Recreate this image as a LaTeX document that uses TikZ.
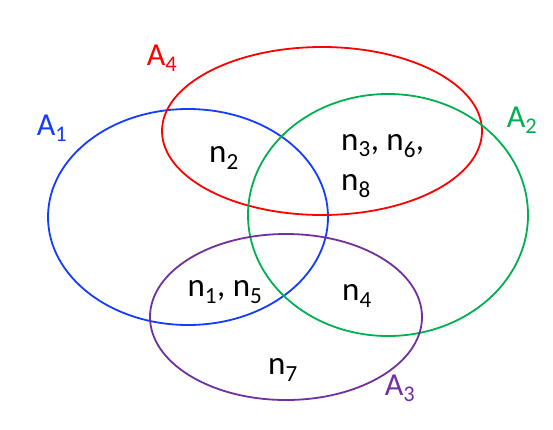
\documentclass[tikz,border=0pt]{standalone}
\usepackage{fontspec}
\setmainfont{Carlito}
\definecolor{cblue}{RGB}{20,60,255}
\definecolor{cred}{RGB}{255,0,0}
\definecolor{cgreen}{RGB}{0,176,80}
\definecolor{cpurple}{RGB}{112,48,160}
\begin{document}
\begin{tikzpicture}[x=1pt,y=-1pt,
  setline/.style={line width=1.8pt},
  elt/.style={font=\fontsize{33}{38}\selectfont, inner sep=0pt},
  lbl/.style={font=\fontsize{32}{36}\selectfont, inner sep=0pt}]
\useasboundingbox (0,0) rectangle (553,429);
\draw[setline, cblue] (188,217) ellipse [x radius=140, y radius=108];
\draw[setline, cred] (322,131) ellipse [x radius=160, y radius=84];
\draw[setline, cgreen] (388,215) ellipse [x radius=140, y radius=121];
\draw[setline, cpurple] (286,317) ellipse [x radius=136, y radius=83];
\node[lbl, text=cred] (a4) at (162,58) {A\textsubscript{4}};
\node[lbl, text=cblue] (a1) at (52,128) {A\textsubscript{1}};
\node[lbl, text=cgreen] (a2) at (522,120) {A\textsubscript{2}};
\node[lbl, text=cpurple] (a3) at (400,388) {A\textsubscript{3}};
\node[elt] (n2) at (224,158) {n\textsubscript{2}};
\node[elt, align=left, anchor=west] (n368) at (341,166) {n\textsubscript{3}, n\textsubscript{6},\\[2pt] n\textsubscript{8}};
\node[elt] (n15) at (225,292) {n\textsubscript{1}, n\textsubscript{5}};
\node[elt] (n4) at (357,296) {n\textsubscript{4}};
\node[elt] (n7) at (283,370) {n\textsubscript{7}};
\end{tikzpicture}
\end{document}
